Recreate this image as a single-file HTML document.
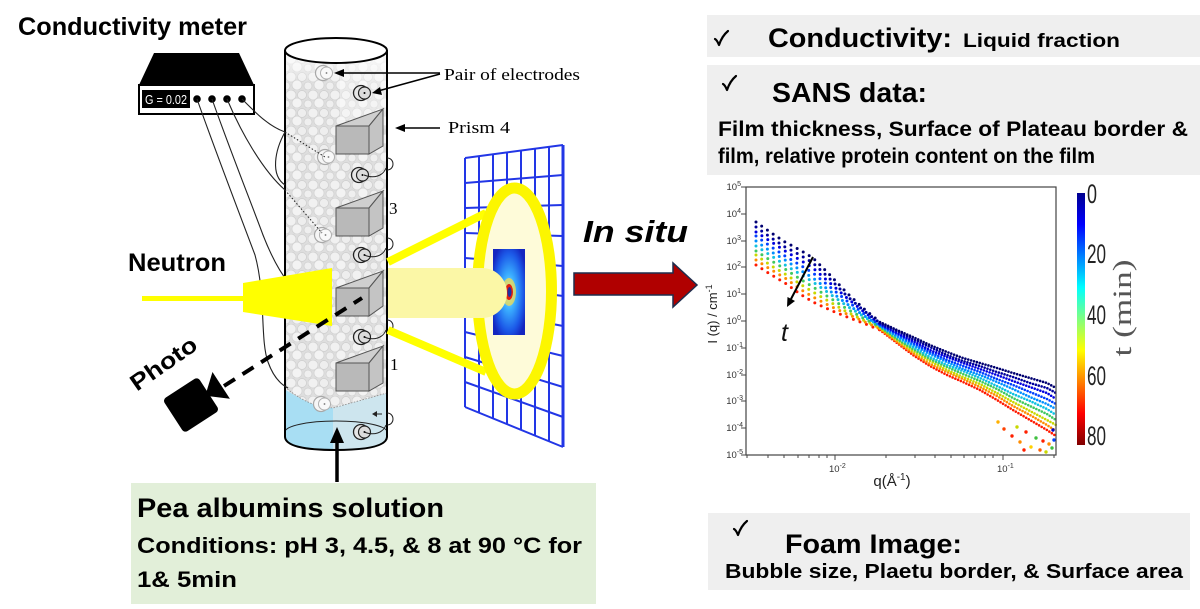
<!DOCTYPE html>
<html><head><meta charset="utf-8"><style>
html,body{margin:0;padding:0;background:#fff;}
svg{display:block;}
text{font-family:"Liberation Sans",sans-serif;}
.b{font-weight:bold;}
.serif{font-family:"Liberation Serif",serif;}
</style></head><body>
<svg width="1200" height="609" viewBox="0 0 1200 609" xmlns="http://www.w3.org/2000/svg">
<defs>
<pattern id="foam" width="22" height="18" patternUnits="userSpaceOnUse">
<rect width="22" height="18" fill="#dedede"/>
<circle cx="5" cy="5" r="5" fill="#f1f1f1" stroke="#d0d0d0" stroke-width="0.7"/>
<circle cx="16" cy="5" r="4.5" fill="#eeeeee" stroke="#cecece" stroke-width="0.7"/>
<circle cx="11" cy="13" r="5" fill="#f3f3f3" stroke="#d2d2d2" stroke-width="0.7"/>
<circle cx="0" cy="14" r="4" fill="#efefef" stroke="#d0d0d0" stroke-width="0.7"/>
<circle cx="22" cy="14" r="4" fill="#efefef" stroke="#d0d0d0" stroke-width="0.7"/>
</pattern>
<clipPath id="cyl"><path d="M285,50 L285,438 Q286,450 336,450 Q386,450 387,438 L387,50 Z"/></clipPath>
<linearGradient id="topw" x1="0" y1="0" x2="0" y2="1">
<stop offset="0" stop-color="#fff" stop-opacity="1"/><stop offset="1" stop-color="#fff" stop-opacity="0"/>
</linearGradient>
<linearGradient id="jet" x1="0" y1="0" x2="0" y2="1">
<stop offset="0" stop-color="#00008f"/><stop offset="0.125" stop-color="#0000ff"/>
<stop offset="0.375" stop-color="#00ffff"/><stop offset="0.5" stop-color="#80ff80"/>
<stop offset="0.625" stop-color="#ffff00"/><stop offset="0.875" stop-color="#ff0000"/>
<stop offset="1" stop-color="#800000"/>
</linearGradient>
<radialGradient id="det" cx="0.5" cy="0.5" r="0.6">
<stop offset="0" stop-color="#9fe6ff"/><stop offset="0.35" stop-color="#3aaeff"/>
<stop offset="0.75" stop-color="#1c5ae8"/><stop offset="1" stop-color="#1426c0"/>
</radialGradient>
<g id="eD">
<circle cx="-2" cy="0" r="7.5" fill="#e6e6e6" stroke="#222" stroke-width="1.3"/>
<circle cx="1.5" cy="0" r="6" fill="#dcdcdc" stroke="#222" stroke-width="1.2"/>
<circle cx="1.5" cy="0" r="1" fill="#000"/>
</g>
<g id="eL">
<circle cx="-2" cy="0" r="7.5" fill="#f6f6f6" stroke="#a8a8a8" stroke-width="1.2"/>
<circle cx="1.5" cy="0" r="6" fill="#f9f9f9" stroke="#b0b0b0" stroke-width="1"/>
<circle cx="1.5" cy="0" r="0.9" fill="#777"/>
</g>
<path id="chk" d="M0,7 Q2,8 4,13 Q7,4 13,-1" fill="none" stroke="#000" stroke-width="2.2" stroke-linecap="round" stroke-linejoin="round"/>
</defs>

<rect width="1200" height="609" fill="#fff"/>

<!-- Conductivity meter -->
<text x="18" y="35" class="b" font-size="25" textLength="229" lengthAdjust="spacingAndGlyphs">Conductivity meter</text>
<polygon points="154,53 239,53 254,85 139,85" fill="#000"/>
<rect x="139" y="85" width="115" height="29" fill="#fff" stroke="#000" stroke-width="2"/>
<rect x="142" y="90" width="48" height="18" fill="#000"/>
<text x="145" y="104" font-size="13" fill="#fff" font-family="Liberation Mono, monospace" textLength="42" lengthAdjust="spacingAndGlyphs">G = 0.02</text>
<circle cx="197" cy="99" r="3.8" fill="#000"/><circle cx="212" cy="99" r="3.8" fill="#000"/>
<circle cx="227" cy="99" r="3.8" fill="#000"/><circle cx="242" cy="99" r="3.8" fill="#000"/>

<!-- Cylinder -->
<g clip-path="url(#cyl)">
<rect x="280" y="45" width="112" height="410" fill="url(#foam)"/>
<rect x="280" y="45" width="112" height="40" fill="url(#topw)"/>
<rect x="340" y="60" width="50" height="60" fill="#fff" opacity="0.35"/>
<path d="M280,386 Q300,400 318,406 L333,408 L333,460 L280,460 Z" fill="#a8def3"/>
<path d="M333,408 L392,392 L392,460 L333,460 Z" fill="#cde5ee"/>
</g>
<path d="M285,387 Q300,400 318,406 L333,408 L387,393" fill="none" stroke="#888" stroke-width="0.8" stroke-dasharray="1.5 1.5"/>
<path d="M285,432 A51,11 0 0 1 387,432" fill="none" stroke="#222" stroke-width="1"/>
<path d="M285,50 L285,437 Q286,450 336,450 Q386,450 387,437 L387,50" fill="none" stroke="#000" stroke-width="2"/>
<ellipse cx="336" cy="50.5" rx="51" ry="12.5" fill="#fff" stroke="#000" stroke-width="2"/>

<!-- Electrodes -->
<use href="#eL" x="325" y="73"/><use href="#eD" x="363" y="93"/>
<use href="#eL" x="327" y="157"/><use href="#eD" x="361" y="175"/>
<use href="#eL" x="324" y="235"/><use href="#eD" x="363" y="255"/>
<use href="#eD" x="363" y="337"/>
<use href="#eL" x="323" y="404"/><use href="#eD" x="363" y="432"/>

<!-- electrode loops on right -->
<g fill="none" stroke="#222" stroke-width="1">
<path d="M364,175 C374,179 383,176 386,168"/><path d="M387,158 C395,158 395,170 387,170"/>
<path d="M364,255 C374,259 383,256 386,248"/><path d="M387,238 C395,238 395,250 387,250"/>
<path d="M364,337 C374,341 383,338 386,330"/><path d="M387,320 C395,320 395,332 387,332"/>
<path d="M364,432 C374,436 383,433 386,425"/><path d="M387,413 C395,413 395,425 387,425"/>
<path d="M382,414 L374,414"/>
</g>
<polygon points="372,414 377,411 377,417" fill="#222"/>

<!-- Prisms -->
<g stroke="#555" stroke-width="1">
<polygon points="336,126 369,126 369,154 336,154" fill="#b9b9b9"/>
<polygon points="336,126 369,126 383,109" fill="#cfcfcf"/>
<polygon points="369,126 383,109 383,146 369,154" fill="#c4c4c4"/>
<polygon points="336,208 369,208 369,236 336,236" fill="#b9b9b9"/>
<polygon points="336,208 369,208 383,191" fill="#cfcfcf"/>
<polygon points="369,208 383,191 383,228 369,236" fill="#c4c4c4"/>
<polygon points="336,288 369,288 369,316 336,316" fill="#b9b9b9"/>
<polygon points="336,288 369,288 383,271" fill="#cfcfcf"/>
<polygon points="369,288 383,271 383,306 369,316" fill="#c4c4c4"/>
<polygon points="336,363 369,363 369,391 336,391" fill="#b9b9b9"/>
<polygon points="336,363 369,363 383,346" fill="#cfcfcf"/>
<polygon points="369,363 383,346 383,383 369,391" fill="#c4c4c4"/>
</g>

<!-- wires -->
<g fill="none" stroke="#222" stroke-width="1.1">
<path d="M242,99 C255,112 268,126 285,132"/>
<path d="M227,99 C240,130 262,170 285,190"/>
<path d="M212,99 C230,150 250,200 263,235 C272,258 280,272 288,282"/>
<path d="M197,99 C215,150 240,215 255,255 C266,295 260,340 268,362 C273,376 280,384 288,388"/>
<path d="M285,132 C275,150 270,175 285,185"/>
</g>
<g fill="none" stroke="#222" stroke-width="1" stroke-dasharray="1.5 2">
<path d="M285,132 L325,157"/><path d="M285,190 L322,233"/>
</g>

<!-- labels at cylinder -->
<text x="444" y="80" class="serif" font-size="17" textLength="136" lengthAdjust="spacingAndGlyphs">Pair of electrodes</text>
<g stroke="#000" stroke-width="1.5" fill="none">
<path d="M440,73 L342,73"/><path d="M440,74 L378,91"/><path d="M440,128 L401,128"/>
</g>
<polygon points="334,73 344,69 344,77" fill="#000"/>
<polygon points="372,93 380,87 382,95" fill="#000"/>
<polygon points="395,128 405,124 405,132" fill="#000"/>
<text x="448" y="133" class="serif" font-size="17" textLength="62" lengthAdjust="spacingAndGlyphs">Prism 4</text>
<text x="389" y="214" class="serif" font-size="17">3</text>
<text x="390" y="370" class="serif" font-size="17">1</text>

<!-- Neutron -->
<text x="128" y="271" class="b" font-size="25" textLength="98" lengthAdjust="spacingAndGlyphs">Neutron</text>
<rect x="142" y="296" width="103" height="5" fill="#ffff00"/>
<polygon points="243,283 332,268 332,326 243,312" fill="#ffff00"/>

<!-- grid detector -->
<g stroke="#2236e6" stroke-width="2" fill="none">
<path d="M465,158 L465,407 M479,156 L479,413 M493,154 L493,418 M507,152 L507,424 M521,151 L521,430 M535,149 L535,436 M549,147 L549,441"/>
<path d="M563,145 L563,447" stroke-width="3"/>
<path d="M465,158 L563,145 M465,183 L563,175 M465,208 L563,205 M465,233 L563,236 M465,258 L563,266 M465,283 L563,296 M465,307 L563,326 M465,332 L563,356 M465,357 L563,387 M465,382 L563,417 M465,407 L563,447"/>
</g>
<g stroke="#ffff00" stroke-width="8" stroke-linecap="butt">
<line x1="388" y1="262" x2="486" y2="213"/>
<line x1="388" y1="330" x2="486" y2="372"/>
</g>
<ellipse cx="514.5" cy="291" rx="37" ry="103" fill="#fefbd9" stroke="#fcf600" stroke-width="11"/>
<rect x="493" y="249" width="32" height="86" fill="url(#det)"/>
<ellipse cx="509" cy="292" rx="7" ry="14" fill="#ffe040" opacity="0.7"/>
<ellipse cx="509" cy="292" rx="4" ry="8" fill="#e02010"/>
<ellipse cx="509.5" cy="292" rx="2" ry="5" fill="#2030a0"/>
<path d="M388,268 L482,268 A25,25 0 0 1 482,318 L388,318 Z" fill="#fbf7a6"/>

<!-- camera + dashed -->
<line x1="224" y1="386" x2="362" y2="298" stroke="#000" stroke-width="4" stroke-dasharray="13 9"/>
<g transform="translate(191,405) rotate(-33)">
<rect x="-21" y="-20" width="42" height="40" rx="4" fill="#000"/>
<polygon points="17,0 36,-16 36,16" fill="#000"/>
</g>
<text transform="translate(168,370) rotate(-35)" text-anchor="middle" class="b" font-size="23" textLength="76" lengthAdjust="spacingAndGlyphs">Photo</text>

<!-- up arrow & green box -->
<line x1="337" y1="482" x2="337" y2="440" stroke="#000" stroke-width="3.5"/>
<polygon points="337,427 330,443 344,443" fill="#000"/>
<rect x="131" y="483" width="465" height="121" fill="#e2efd9"/>
<text x="137" y="517" class="b" font-size="27" textLength="307" lengthAdjust="spacingAndGlyphs">Pea albumins solution</text>
<text x="137" y="553" class="b" font-size="22" textLength="445" lengthAdjust="spacingAndGlyphs">Conditions: pH 3, 4.5, &amp; 8 at 90 °C for</text>
<text x="137" y="587" class="b" font-size="22" textLength="100" lengthAdjust="spacingAndGlyphs">1&amp; 5min</text>

<!-- In situ arrow -->
<text x="583" y="242" class="b" font-size="31" font-style="italic" textLength="105" lengthAdjust="spacingAndGlyphs">In situ</text>
<polygon points="574,273 673,273 673,263 697,285 673,307 673,295 574,295" fill="#b00000" stroke="#1f2d4d" stroke-width="1.5"/>

<!-- right boxes -->
<rect x="707" y="15" width="493" height="42" fill="#efefef"/>
<use href="#chk" x="715" y="32"/>
<text x="768" y="47" class="b" font-size="27" textLength="184" lengthAdjust="spacingAndGlyphs">Conductivity:</text>
<text x="963" y="47" class="b" font-size="19" textLength="157" lengthAdjust="spacingAndGlyphs">Liquid fraction</text>

<rect x="707" y="65" width="493" height="110" fill="#efefef"/>
<use href="#chk" x="723" y="77"/>
<text x="772" y="102" class="b" font-size="28" textLength="155" lengthAdjust="spacingAndGlyphs">SANS data:</text>
<text x="718" y="136" class="b" font-size="21" textLength="470" lengthAdjust="spacingAndGlyphs">Film thickness, Surface of Plateau border &amp;</text>
<text x="718" y="163" class="b" font-size="21" textLength="377" lengthAdjust="spacingAndGlyphs">film, relative protein content on the film</text>

<rect x="708" y="513" width="482" height="77" fill="#efefef"/>
<use href="#chk" x="734" y="522"/>
<text x="785" y="553" class="b" font-size="27" textLength="177" lengthAdjust="spacingAndGlyphs">Foam Image:</text>
<text x="725" y="578" class="b" font-size="20" textLength="458" lengthAdjust="spacingAndGlyphs">Bubble size, Plaetu border, &amp; Surface area</text>

<!-- plot -->
<g fill="none" stroke-linecap="round">
<g stroke-width="3" stroke-dasharray="0 7">
<polyline stroke="#ff1a00" points="756,265 770,274 785,283 800,294 813,302 830,310 847,317 863,323 880,330"/>
<polyline stroke="#ff8c00" points="756,260 770,269 785,278 800,289 813,297 830,306 847,314 863,321 880,329"/>
<polyline stroke="#c8d800" points="756,255 770,265 785,274 800,284 813,292 830,302 847,312 863,320 880,328"/>
<polyline stroke="#40c860" points="756,251 770,260 785,269 800,279 813,287 830,298 847,309 863,318 880,327"/>
<polyline stroke="#10c0e0" points="756,246 770,255 785,265 800,274 813,282 830,294 847,306 863,316 880,326"/>
<polyline stroke="#0090ff" points="756,241 770,251 785,260 800,270 813,278 830,291 847,304 863,315 880,326"/>
<polyline stroke="#0040ff" points="756,236 770,246 785,256 800,265 813,273 830,287 847,301 863,313 880,325"/>
<polyline stroke="#0000e0" points="756,232 770,241 785,251 800,260 813,268 830,283 847,298 863,311 880,324"/>
<polyline stroke="#00009c" points="756,227 770,237 785,247 800,255 813,263 830,279 847,296 863,310 880,323"/>
<polyline stroke="#000070" points="756,222 770,232 785,242 800,250 813,258 830,275 847,293 863,308 880,322"/>
</g>
<g stroke-width="2.6" stroke-dasharray="0 3">
<polyline stroke="#ff1a00" points="880,330 897,343 913,355 930,366 947,375 963,382 980,390 997,400 1013,410 1030,420 1047,430 1056,436"/>
<polyline stroke="#ff8c00" points="880,329 897,342 913,353 930,364 947,372 963,379 980,387 997,396 1013,406 1030,415 1047,425 1056,431"/>
<polyline stroke="#c8d800" points="880,328 897,340 913,351 930,361 947,370 963,377 980,384 997,393 1013,402 1030,411 1047,420 1056,425"/>
<polyline stroke="#40c860" points="880,327 897,339 913,349 930,359 947,367 963,374 980,381 997,389 1013,398 1030,406 1047,414 1056,420"/>
<polyline stroke="#10c0e0" points="880,326 897,337 913,347 930,357 947,365 963,371 980,378 997,386 1013,394 1030,401 1047,409 1056,415"/>
<polyline stroke="#0090ff" points="880,326 897,336 913,345 930,354 947,362 963,369 980,375 997,382 1013,389 1030,397 1047,404 1056,409"/>
<polyline stroke="#0040ff" points="880,325 897,334 913,343 930,352 947,360 963,366 980,372 997,379 1013,385 1030,392 1047,399 1056,404"/>
<polyline stroke="#0000e0" points="880,324 897,333 913,341 930,350 947,357 963,363 980,369 997,375 1013,381 1030,387 1047,393 1056,399"/>
<polyline stroke="#00009c" points="880,323 897,331 913,339 930,347 947,355 963,361 980,366 997,372 1013,377 1030,383 1047,388 1056,393"/>
<polyline stroke="#000070" points="880,322 897,330 913,337 930,345 947,352 963,358 980,363 997,368 1013,373 1030,378 1047,383 1056,388"/>
</g>
</g>
<g>
<circle cx="1012" cy="436" r="1.7" fill="#ff2000"/><circle cx="1020" cy="442" r="1.7" fill="#ff8c00"/>
<circle cx="1026" cy="432" r="1.7" fill="#ff2000"/><circle cx="1031" cy="447" r="1.7" fill="#ffd000"/>
<circle cx="1036" cy="438" r="1.7" fill="#40c040"/><circle cx="1040" cy="450" r="1.7" fill="#ff6000"/>
<circle cx="1043" cy="441" r="1.7" fill="#ff2000"/><circle cx="1046" cy="452" r="1.7" fill="#c8d800"/>
<circle cx="1049" cy="444" r="1.7" fill="#ff8c00"/><circle cx="1052" cy="448" r="1.7" fill="#40c040"/>
<circle cx="1004" cy="429" r="1.7" fill="#ff4000"/><circle cx="998" cy="422" r="1.7" fill="#ffb000"/>
<circle cx="1017" cy="427" r="1.7" fill="#c8d800"/><circle cx="1054" cy="440" r="1.7" fill="#0040ff"/>
<circle cx="1053" cy="430" r="1.7" fill="#0000c0"/><circle cx="1024" cy="450" r="1.7" fill="#ff2000"/>
</g>
<rect x="746" y="187" width="310" height="268" fill="none" stroke="#444" stroke-width="1.2"/>
<g stroke="#444" stroke-width="1">
<path d="M741,187 H746 M741,214 H746 M741,241 H746 M741,267 H746 M741,294 H746 M741,321 H746 M741,348 H746 M741,375 H746 M741,401 H746 M741,428 H746 M741,455 H746"/>
<path d="M835,455 V460 M1003,455 V460"/>
<path d="M747,455 V458 M768,455 V458 M784,455 V458 M798,455 V458 M809,455 V458 M819,455 V458 M827,455 V458 M886,455 V458 M915,455 V458 M935,455 V458 M951,455 V458 M964,455 V458 M975,455 V458 M985,455 V458 M993,455 V458 M1054,455 V458"/>
</g>
<g font-size="9.5" fill="#333" text-anchor="end">
<text x="741" y="190">10<tspan font-size="7" dy="-4">5</tspan></text>
<text x="741" y="217">10<tspan font-size="7" dy="-4">4</tspan></text>
<text x="741" y="244">10<tspan font-size="7" dy="-4">3</tspan></text>
<text x="741" y="270">10<tspan font-size="7" dy="-4">2</tspan></text>
<text x="741" y="297">10<tspan font-size="7" dy="-4">1</tspan></text>
<text x="741" y="324">10<tspan font-size="7" dy="-4">0</tspan></text>
<text x="743" y="351">10<tspan font-size="7" dy="-4">-1</tspan></text>
<text x="743" y="378">10<tspan font-size="7" dy="-4">-2</tspan></text>
<text x="743" y="404">10<tspan font-size="7" dy="-4">-3</tspan></text>
<text x="743" y="431">10<tspan font-size="7" dy="-4">-4</tspan></text>
<text x="743" y="458">10<tspan font-size="7" dy="-4">-5</tspan></text>
</g>
<text x="829" y="472" font-size="9.5" fill="#333">10<tspan font-size="7" dy="-4">-2</tspan></text>
<text x="997" y="472" font-size="9.5" fill="#333">10<tspan font-size="7" dy="-4">-1</tspan></text>
<text x="892" y="486" text-anchor="middle" font-size="15" fill="#222">q(Å<tspan font-size="10" dy="-6">-1</tspan><tspan dy="6">)</tspan></text>
<text transform="translate(717,314) rotate(-90)" text-anchor="middle" font-size="13" fill="#222">I (q) / cm<tspan font-size="9" dy="-5">-1</tspan></text>
<line x1="813" y1="257" x2="791" y2="299" stroke="#000" stroke-width="2"/>
<polygon points="787,307 795,301 787.5,297" fill="#000"/>
<text x="781" y="341" font-size="25" font-style="italic" fill="#111">t</text>

<!-- colorbar -->
<rect x="1077" y="193" width="8" height="252" fill="url(#jet)"/>
<g font-family="Liberation Sans Narrow, Liberation Sans, sans-serif" font-size="27" fill="#222">
<text x="1087" y="203" textLength="10" lengthAdjust="spacingAndGlyphs">0</text>
<text x="1087" y="263" textLength="19" lengthAdjust="spacingAndGlyphs">20</text>
<text x="1087" y="324" textLength="19" lengthAdjust="spacingAndGlyphs">40</text>
<text x="1087" y="385" textLength="19" lengthAdjust="spacingAndGlyphs">60</text>
<text x="1087" y="445" textLength="19" lengthAdjust="spacingAndGlyphs">80</text>
</g>
<text transform="translate(1131,308) rotate(-90)" text-anchor="middle" class="serif" font-size="26" fill="#555" textLength="97" lengthAdjust="spacingAndGlyphs">t (min)</text>
</svg>
</body></html>
